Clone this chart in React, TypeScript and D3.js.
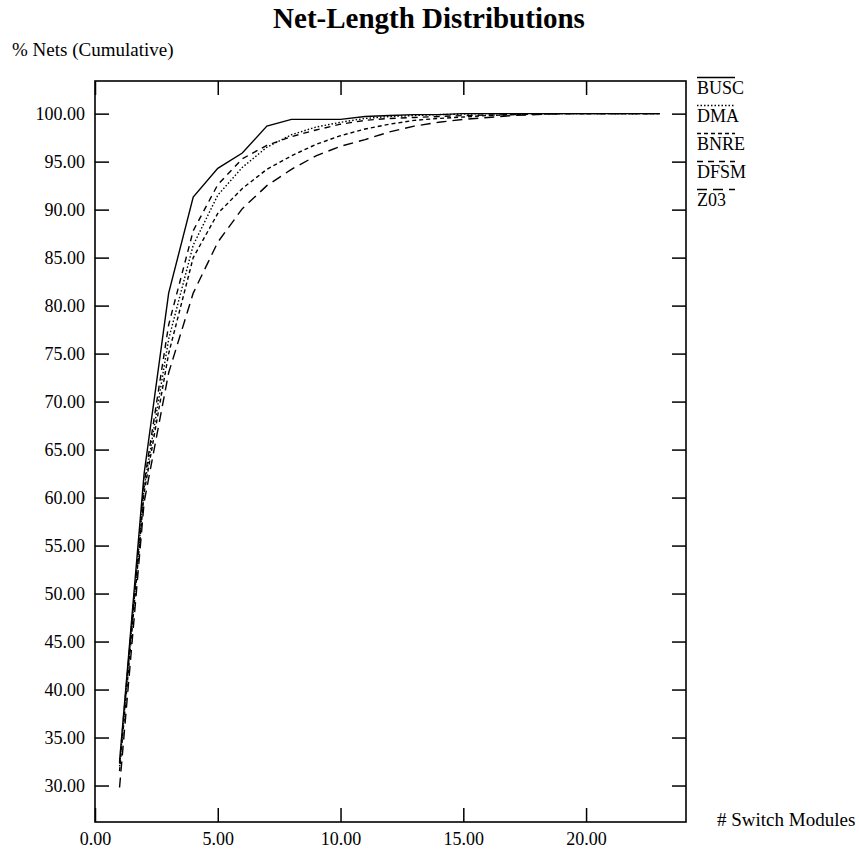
import {useEffect, useRef} from 'react';
import * as d3 from 'd3';

// # switch modules (x) and cumulative % of nets per placer
const modules = [1, 2, 3, 4, 5, 6, 7, 8, 9, 10, 11, 12, 13, 14, 15, 16, 17, 18, 19, 20, 21, 22, 23];
const busc = [32.5, 62.5, 81.3, 91.3, 94.3, 95.9, 98.7, 99.4, 99.4, 99.4, 99.7, 99.8, 99.9, 99.9, 100, 100, 100, 100, 100, 100, 100, 100, 100];
const dma = [32.0, 61.0, 76.5, 86.3, 91.5, 94.4, 96.5, 97.8, 98.6, 99.1, 99.5, 99.7, 99.8, 99.9, 99.95, 100, 100, 100, 100, 100, 100, 100, 100];
const bnre = [31.5, 60.5, 75.0, 85.0, 89.6, 92.2, 94.2, 95.6, 96.8, 97.7, 98.4, 98.9, 99.3, 99.5, 99.65, 99.8, 99.9, 100, 100, 100, 100, 100, 100];
const dfsm = [32.3, 61.5, 78.0, 87.8, 92.6, 95.3, 96.7, 97.6, 98.3, 98.9, 99.3, 99.5, 99.6, 99.7, 99.8, 99.85, 99.9, 99.95, 100, 100, 100, 100, 100];
const z03 = [29.8, 59.5, 73.0, 81.3, 86.6, 90.1, 92.5, 94.2, 95.6, 96.6, 97.3, 98.1, 98.7, 99.1, 99.4, 99.6, 99.8, 99.9, 100, 100, 100, 100, 100];

const seriesNames = ['BUSC', 'DMA', 'BNRE', 'DFSM', 'Z03'];
const seriesValues = [busc, dma, bnre, dfsm, z03];
const dashes = ['none', '1.5,2', '4,3', '6,5', '10,6'];

const xTicks = [0, 5, 10, 15, 20];
const yTicks = [30, 35, 40, 45, 50, 55, 60, 65, 70, 75, 80, 85, 90, 95, 100];

const FONT = '"Liberation Serif", "Times New Roman", serif';

const App = () => {
  const svgRef = useRef<SVGSVGElement>(null);
  const width = 859;
  const height = 850;

  useEffect(() => {
    const svg = d3.select(svgRef.current);
    svg.selectAll('*').remove();

    const left = 95, right = 686, top = 81, bottom = 822;

    const x = d3.scaleLinear().domain([0, 24.07]).range([left, right]);
    const y = d3.scaleLinear().domain([26.2, 103.4]).range([bottom, top]);
    const fmt = d3.format('.2f');

    // title + axis captions
    svg.append('text')
      .attr('x', 429).attr('y', 28)
      .attr('text-anchor', 'middle')
      .style('font-family', FONT).style('font-weight', 'bold').style('font-size', '29px')
      .text('Net-Length Distributions');

    svg.append('text')
      .attr('x', 12).attr('y', 56)
      .style('font-family', FONT).style('font-size', '19px')
      .text('% Nets (Cumulative)');

    svg.append('text')
      .attr('x', 717).attr('y', 826)
      .style('font-family', FONT).style('font-size', '19px')
      .text('# Switch Modules');

    // axes, ticks pointing inward
    const styleAxis = (g) => {
      g.select('.domain').remove();
      g.selectAll('.tick line').attr('stroke', '#000').attr('stroke-width', 1.5);
      g.selectAll('text').style('font-family', FONT).style('font-size', '18px').attr('fill', '#000');
    };

    svg.append('g')
      .attr('transform', `translate(${left},0)`)
      .call(d3.axisLeft(y).tickValues(yTicks).tickFormat(fmt).tickSize(-14).tickPadding(10))
      .call(styleAxis);

    svg.append('g')
      .attr('transform', `translate(${right},0)`)
      .call(d3.axisRight(y).tickValues(yTicks).tickFormat(() => '').tickSize(-14))
      .call(styleAxis);

    svg.append('g')
      .attr('transform', `translate(0,${bottom})`)
      .call(d3.axisBottom(x).tickValues(xTicks).tickFormat(fmt).tickSize(-14).tickPadding(10.5))
      .call(styleAxis);

    svg.append('g')
      .attr('transform', `translate(0,${top})`)
      .call(d3.axisTop(x).tickValues(xTicks).tickFormat(() => '').tickSize(-14))
      .call(styleAxis);

    // frame
    svg.append('rect')
      .attr('x', left).attr('y', top)
      .attr('width', right - left).attr('height', bottom - top)
      .attr('fill', 'none').attr('stroke', '#000').attr('stroke-width', 1.6);

    const line = d3.line<number>()
      .x((_, i) => x(modules[i]))
      .y(d => y(d));

    seriesValues.forEach((vals, i) => {
      svg.append('path')
        .datum(vals)
        .attr('fill', 'none')
        .attr('stroke', '#000')
        .attr('stroke-width', 1.4)
        .attr('stroke-dasharray', dashes[i])
        .attr('d', line);
    });

    // legend: line sample above each name
    const legend = svg.append('g').attr('transform', `translate(697,0)`);
    seriesNames.forEach((name, i) => {
      const ly = 77.5 + i * 28;
      legend.append('line')
        .attr('x1', 0).attr('x2', 38)
        .attr('y1', ly).attr('y2', ly)
        .attr('stroke', '#000').attr('stroke-width', 1.4)
        .attr('stroke-dasharray', dashes[i]);
      legend.append('text')
        .attr('x', 0).attr('y', ly + 16)
        .style('font-family', FONT).style('font-size', '18px')
        .text(name);
    });
  }, []);

  return (
    <svg
      ref={svgRef}
      width={width}
      height={height}
      style={{position: 'absolute', left: 0, top: 0, background: '#fff'}}
    />
  );
};

export default App;
